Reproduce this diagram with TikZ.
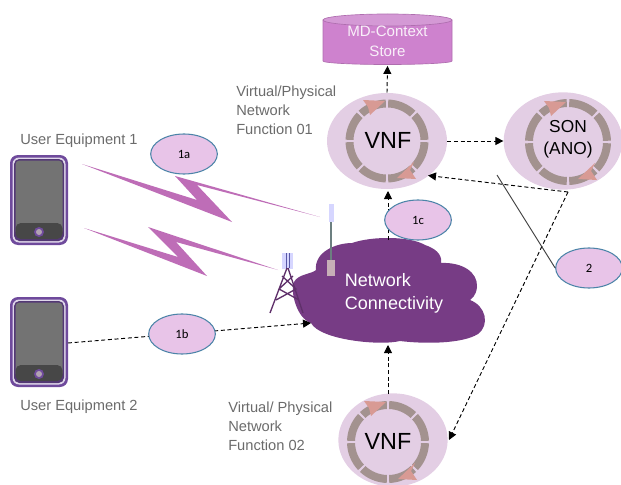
\documentclass[tikz,border=0pt]{standalone}
\usepackage{fontspec}
\setmainfont{Liberation Sans}
\newfontfamily\tagfont{Carlito}
\usetikzlibrary{arrows.meta,shapes.geometric}
\definecolor{labelgrey}{HTML}{6B6B6B}
\definecolor{cloudpurple}{HTML}{773C85}
\definecolor{boltpink}{HTML}{BE6DB7}
\definecolor{palelilac}{HTML}{E3CEE4}
\definecolor{taglilac}{HTML}{E8C4E8}
\definecolor{tagblue}{HTML}{4C84A8}
\definecolor{ringgrey}{HTML}{A3928F}
\definecolor{ringarrow}{HTML}{D89A94}
\definecolor{storepink}{HTML}{CE82CE}
\definecolor{phoneviolet}{HTML}{6F4A9C}
\definecolor{mastgrey}{HTML}{6C7F80}
\tikzset{
  every node/.style={font=\fontsize{12}{14}\selectfont},
  lbl/.style={text=labelgrey, align=left, anchor=west, inner sep=0pt, font=\fontsize{11}{14.2}\selectfont},
  tag/.style={draw=tagblue, fill=taglilac, line width=0.8pt, ellipse, minimum width=50pt, minimum height=30pt, inner sep=0pt, font=\tagfont\fontsize{9.5}{11}\selectfont},
  funcnode/.style={fill=palelilac, ellipse, inner sep=0pt},
  conn/.style={draw, line width=0.7pt, dash pattern=on 3pt off 2pt, -{Triangle[length=6pt,width=6pt]}},
}
% ring of eight pieces with two arrows
\newcommand{\funcring}[2]{
  \foreach \ang in {0,45,...,315}
    \fill[ringgrey] ([shift={(\ang+1.8:#2)}]#1) arc[start angle=\ang+1.8, end angle=\ang+43.2, radius=#2]
      -- ([shift={(\ang+43.2:#2-8)}]#1) arc[start angle=\ang+43.2, end angle=\ang+1.8, radius=#2-8] -- cycle;
  \fill[ringarrow, shift={(#1)}] (-24,-41) -- (-2,-40) -- (-17,-26) -- (-19,-34) -- cycle;
  \fill[ringarrow, shift={(#1)}] (27,21) -- (10,37) -- (29,38) -- (23,29) -- cycle;
}
\newcommand{\phone}[1]{
  \fill[phoneviolet, rounded corners=6pt] (10,#1) rectangle (68,#1+90);
  \fill[white!78!phoneviolet, rounded corners=5pt] (12.5,#1+2.5) rectangle (65.5,#1+87.5);
  \fill[phoneviolet!75!black, rounded corners=4pt] (14,#1+4) rectangle (64,#1+86);
  \fill[gray!90!black, rounded corners=3pt] (15.5,#1+5.5) rectangle (62.5,#1+80);
  \fill[black!72, rounded corners=4pt] (15.5,#1+68) rectangle (62.5,#1+84);
  \fill[phoneviolet] (39,#1+77) circle (5);
  \fill[gray!80!violet!60!white] (39,#1+77) circle (3);
}
\begin{document}
\begin{tikzpicture}[x=0.75pt, y=-0.75pt]
\useasboundingbox (0,0) rectangle (621,485);

% store
\fill[storepink, draw=storepink!85!black, line width=0.5pt] (323,20) -- (323,61) arc[start angle=180, end angle=360, x radius=64.5, y radius=-3.5]
  -- (452,20) -- cycle;
\fill[storepink!70!palelilac, draw=storepink!85!black, line width=0.5pt] (387.5,20) ellipse (64.5 and 6);
\node[text=white!88!storepink, align=center, inner sep=0pt, minimum width=96pt, minimum height=37pt, font=\fontsize{11.3}{15}\selectfont] (store) at (387.5,41) {MD-Context\\Store};

% functions
\node[funcnode, minimum width=90pt, minimum height=72pt] (vnf1) at (387,141) {};
\node[funcnode, minimum width=89pt, minimum height=73pt] (son) at (563,141) {};
\node[funcnode, minimum width=82pt, minimum height=70pt] (vnf2) at (393,440) {};
\funcring{387,141}{41.5}
\funcring{568,142}{43}
\funcring{388,442}{41}
\node[font=\fontsize{17.5}{20}\selectfont, inner sep=0pt] (vnf1txt) at (388,140) {VNF};
\node[font=\fontsize{13}{16.5}\selectfont, align=center, inner sep=0pt] (sontxt) at (568,139) {SON\\(ANO)};
\node[font=\fontsize{17.5}{20}\selectfont, inner sep=0pt] (vnf2txt) at (388,441) {VNF};

% radio links
\fill[boltpink] (82,164) -- (232,222) -- (197,185) -- (320,217) -- (175,176) -- (197,200) -- cycle;
\fill[boltpink] (84,228) -- (207,276) -- (176,242) -- (278,270) -- (148,227) -- (178,257) -- cycle;

% phones
\phone{155}
\phone{297}
\coordinate (ue2) at (68,343);

% labels
\node[lbl] (ue1lbl) at (20,141) {User Equipment 1};
\node[lbl] (ue2lbl) at (20,407) {User Equipment 2};
\node[lbl] (func1lbl) at (236,110) {Virtual/Physical\\Network\\Function 01};
\node[lbl] (func2lbl) at (228,426) {Virtual/ Physical\\Network\\Function 02};

% cloud
\fill[cloudpurple] (311,323) .. controls (296,318) and (290,290) .. (294,282)
  .. controls (298,274) and (312,274) .. (316,270)
  .. controls (314,252) and (336,243) .. (352,243)
  .. controls (372,236) and (410,236) .. (425,245)
  .. controls (440,250) and (442,258) .. (441,263)
  .. controls (462,262) and (478,272) .. (477,287)
  .. controls (476,296) and (472,298) .. (470,300)
  .. controls (486,306) and (490,325) .. (478,334)
  .. controls (462,344) and (424,344) .. (400,341)
  .. controls (380,346) and (320,340) .. (311,323) -- cycle;
\node[text=white, align=left, inner sep=0pt, font=\fontsize{13.5}{17.3}\selectfont] (cloudtxt) at (394,293) {Network\\Connectivity};
\coordinate (cloudin) at (311,323);
\coordinate (cloudtop) at (388,240);
\coordinate (cloudlow) at (388,345);
\coordinate (vnf1low) at (388,191);
\coordinate (vnf2top) at (388,394);
\coordinate (vnf1side) at (428,175.5);
\coordinate (vnf2side) at (449,440);
\coordinate (fork) at (568,192);
\coordinate (linkend) at (497,175);

% small antenna
\draw[mastgrey, line width=1.6pt] (331,220) -- (331,262);
\fill[blue!16!white] (328.5,204) rectangle (333.5,222);
\fill[purple!25!gray!50!white] (327,260) rectangle (335,276);

% tower
\fill[blue!16!white] (282,253) rectangle (293,269);
\draw[gray!70!blue, line width=0.6pt] (286,253) -- (286,268) (289,253) -- (289,268);
\draw[cloudpurple!80!black, line width=1pt] (287,268) -- (270,313) (288,268) -- (303,313)
  (282,276) -- (296,289) -- (276,300) (293,276) -- (279,289) -- (299,300);

% connectors
\path[conn] (vnf1.north) -- (store.south);
\path[conn] (vnf1.east) -- (son.west);
\path[conn] (ue2) -- (cloudin);
\path[conn] (cloudtop) -- (vnf1low);
\path[conn] (vnf2top) -- (cloudlow);
\path[conn] (fork) -- (vnf1side);
\path[conn] (fork) -- (vnf2side);

% callouts
\node[tag] (tag1a) at (184,154) {1a};
\node[tag] (tag1b) at (182,334) {1b};
\node[tag] (tag1c) at (418,220) {1c};
\node[tag] (tag2) at (589,268) {2};
\draw[black!75, line width=0.7pt] (tag2.west) -- (linkend);
\end{tikzpicture}
\end{document}
